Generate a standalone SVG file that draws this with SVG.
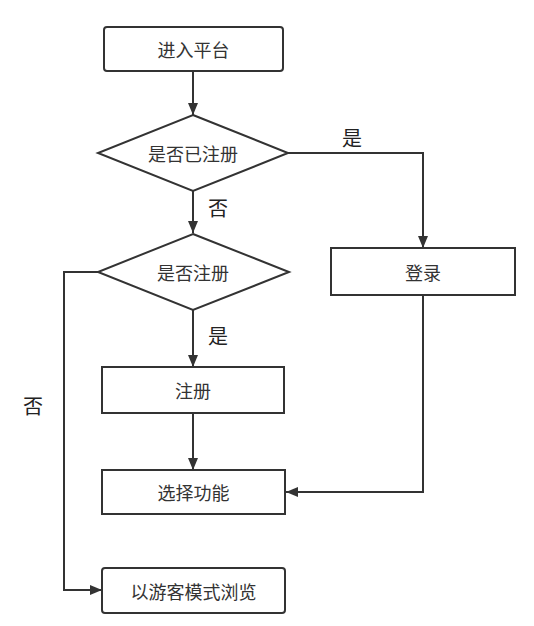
<svg xmlns="http://www.w3.org/2000/svg" width="534" height="626" viewBox="0 0 534 626">
<style>
.n{fill:#fff;stroke:#333;stroke-width:2}
.t{font-family:"Noto Sans CJK SC","Noto Sans",sans-serif;font-size:18px;fill:#333;text-anchor:middle;dominant-baseline:central}
.l{font-family:"Noto Sans CJK SC","Noto Sans",sans-serif;font-size:20px;fill:#222;text-anchor:middle;dominant-baseline:central}
.c{fill:none;stroke:#333;stroke-width:2}
</style>
<defs>
<marker id="a" viewBox="0 0 12 10" refX="12" refY="5" markerWidth="12" markerHeight="10" markerUnits="userSpaceOnUse" orient="auto">
<path d="M0,0 L12,5 L0,10 Z" fill="#333"/>
</marker>
</defs>
<rect width="534" height="626" fill="#fff"/>
<g id="connectors">
<path class="c" d="M193,71 V115" marker-end="url(#a)"/>
<path class="c" d="M193,191 V233" marker-end="url(#a)"/>
<path class="c" d="M193,310 V367" marker-end="url(#a)"/>
<path class="c" d="M193,413 V470" marker-end="url(#a)"/>
<path class="c" d="M288,153 H423 V248" marker-end="url(#a)"/>
<path class="c" d="M423,295 V492 H286" marker-end="url(#a)"/>
<path class="c" d="M98,272 H64 V590 H102" marker-end="url(#a)"/>
<text class="l" x="218" y="207">否</text>
<text class="l" x="218" y="335">是</text>
<text class="l" x="352" y="137">是</text>
<text class="l" x="33" y="405">否</text>
</g>
<g id="start">
<rect class="n" x="104" y="27" width="179" height="44" rx="3"/>
<text class="t" x="193.5" y="49">进入平台</text>
</g>
<g id="registered">
<path class="n" d="M193,115 L288,153 L193,191 L98,153 Z"/>
<text class="t" x="193" y="153">是否已注册</text>
</g>
<g id="doRegister">
<path class="n" d="M193,234 L289,272 L193,310 L98,272 Z"/>
<text class="t" x="193" y="272">是否注册</text>
</g>
<g id="login">
<rect class="n" x="331" y="248" width="184" height="47"/>
<text class="t" x="423" y="271.5">登录</text>
</g>
<g id="register">
<rect class="n" x="102" y="367" width="182" height="46"/>
<text class="t" x="193" y="390">注册</text>
</g>
<g id="choose">
<rect class="n" x="102" y="470" width="183" height="44"/>
<text class="t" x="193.5" y="492">选择功能</text>
</g>
<g id="guest">
<rect class="n" x="102" y="568" width="183" height="45" rx="3"/>
<text class="t" x="193.5" y="590.5">以游客模式浏览</text>
</g>
</svg>
